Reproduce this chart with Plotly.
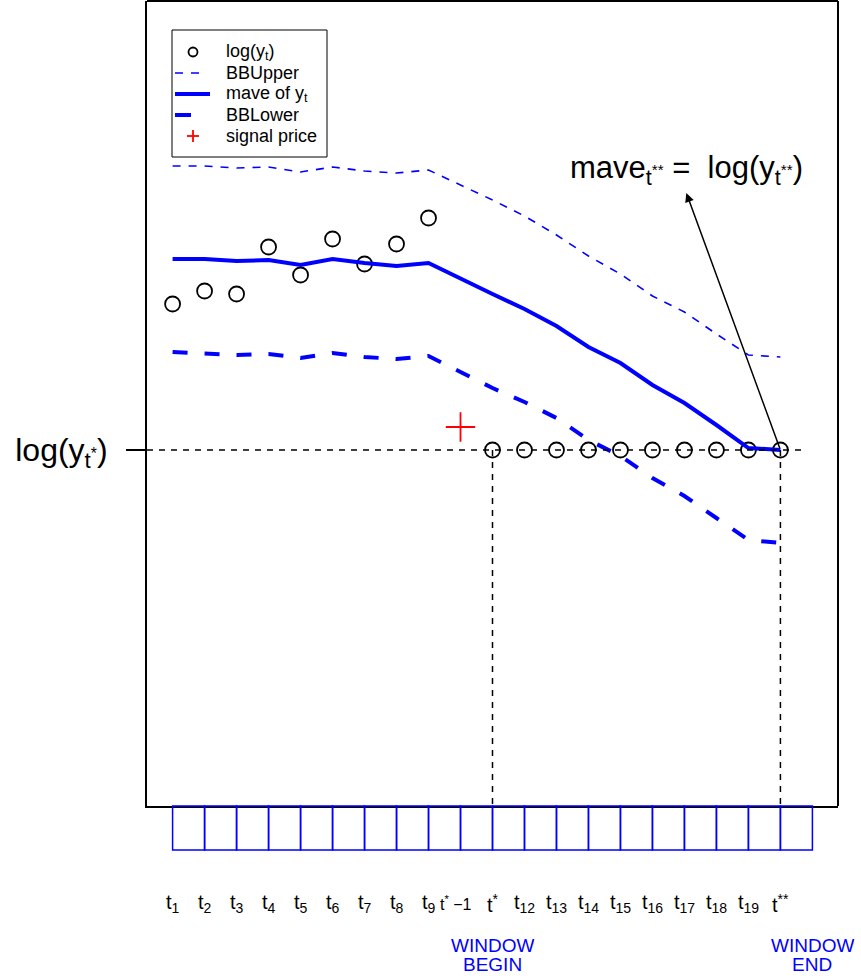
import plotly.graph_objects as go

# ---- data ----
x_idx = list(range(1, 21))
log_y = [5.02, 5.15, 5.12, 5.59, 5.31, 5.67, 5.42, 5.62, 5.88, None,
         3.56, 3.56, 3.56, 3.56, 3.56, 3.56, 3.56, 3.56, 3.56, 3.56]
mave = [5.47, 5.47, 5.45, 5.46, 5.41, 5.47, 5.43, 5.40, 5.43, 5.27,
        5.12, 4.97, 4.80, 4.59, 4.43, 4.21, 4.03, 3.81, 3.58, 3.56]
bb_upper = [6.40, 6.40, 6.38, 6.39, 6.34, 6.39, 6.35, 6.33, 6.36, 6.21,
            6.06, 5.90, 5.71, 5.50, 5.32, 5.10, 4.94, 4.72, 4.51, 4.49]
bb_lower = [4.54, 4.53, 4.51, 4.52, 4.48, 4.53, 4.49, 4.47, 4.50, 4.34,
            4.18, 4.04, 3.88, 3.66, 3.50, 3.28, 3.10, 2.88, 2.66, 2.63]
signal_x = [10]
signal_y = [3.79]
log_y_star = 3.56
t_star = 11
t_star2 = 20
arrow_head = (17.06, 6.13)
tick_labels = ["t<sub>1</sub>", "t<sub>2</sub>", "t<sub>3</sub>", "t<sub>4</sub>",
               "t<sub>5</sub>", "t<sub>6</sub>", "t<sub>7</sub>", "t<sub>8</sub>",
               "t<sub>9</sub>", "<span style='font-size:16px'>t<sup>*</sup> −1</span>",
               "t<sup>*</sup>", "t<sub>12</sub>", "t<sub>13</sub>", "t<sub>14</sub>",
               "t<sub>15</sub>", "t<sub>16</sub>", "t<sub>17</sub>", "t<sub>18</sub>",
               "t<sub>19</sub>", "t<sup>**</sup>"]
window_cells = list(range(1, 21))
window_labels = [(11, "WINDOW", "BEGIN"), (21, "WINDOW", "END")]
legend_labels = ["log(y<sub>t</sub>)", "BBUpper", "mave of y<sub>t</sub>", "BBLower", "signal price"]

BLUE = "#0000FF"
FONT = "Liberation Sans, Arial, Helvetica, sans-serif"

W, H = 861, 978
L, R, T, B = 147, 23, 1, 172
plot_w = W - L - R
plot_h = H - T - B

def px(xp):
    return (xp - L) / plot_w

def py(yp):
    return (H - B - yp) / plot_h

fig = go.Figure()

fig.add_trace(go.Scatter(x=x_idx, y=log_y, mode="markers", showlegend=False,
                         marker=dict(symbol="circle-open", size=15, color="black",
                                     line=dict(width=1.8, color="black"))))
fig.add_trace(go.Scatter(x=x_idx, y=bb_upper, mode="lines", showlegend=False,
                         line=dict(color=BLUE, width=1.6, dash="8px,8px")))
fig.add_trace(go.Scatter(x=x_idx, y=mave, mode="lines", showlegend=False,
                         line=dict(color=BLUE, width=4)))
fig.add_trace(go.Scatter(x=x_idx, y=bb_lower, mode="lines", showlegend=False,
                         line=dict(color=BLUE, width=4, dash="15px,17px")))
fig.add_trace(go.Scatter(x=signal_x, y=signal_y, mode="markers", showlegend=False,
                         marker=dict(symbol="cross-thin", size=21, color="red",
                                     line=dict(width=1.8, color="red"))))

shapes = []
# right and top border
shapes.append(dict(type="line", xref="paper", yref="paper", x0=1, x1=1, y0=0, y1=1,
                   line=dict(color="black", width=2)))
shapes.append(dict(type="line", xref="paper", yref="paper", x0=0, x1=1, y0=1, y1=1,
                   line=dict(color="black", width=2)))
# horizontal dashed line at log(y_t*)
shapes.append(dict(type="line", xref="x", yref="y", x0=0.2, x1=20.72,
                   y0=log_y_star, y1=log_y_star,
                   line=dict(color="black", width=1.5, dash="6px,6px")))
# vertical dashed lines
for xv in (t_star, t_star2):
    shapes.append(dict(type="line", xref="x", yref="y", x0=xv, x1=xv,
                       y0=log_y_star, y1=0,
                       line=dict(color="black", width=1.5, dash="6px,6px")))
# window cells below the plot
for c in window_cells:
    shapes.append(dict(type="rect", xref="x", yref="paper", x0=c, x1=c + 1,
                       y0=py(850), y1=py(806), line=dict(color=BLUE, width=1.5),
                       fillcolor="rgba(0,0,0,0)"))

# ---- legend (drawn manually to match R's compact legend) ----
shapes.append(dict(type="rect", xref="paper", yref="paper", x0=px(172), x1=px(327),
                   y0=py(157), y1=py(30), line=dict(color="black", width=1),
                   fillcolor="white"))
rows = [52, 73, 94, 115, 136]
shapes.append(dict(type="circle", xref="paper", yref="paper", x0=px(188.5), x1=px(197.5),
                   y0=py(rows[0] + 4.5), y1=py(rows[0] - 4.5), line=dict(color="black", width=1.8)))
shapes.append(dict(type="line", xref="paper", yref="paper", x0=px(175), x1=px(203),
                   y0=py(rows[1]), y1=py(rows[1]), line=dict(color=BLUE, width=1.6, dash="8px,8px")))
shapes.append(dict(type="line", xref="paper", yref="paper", x0=px(175), x1=px(210),
                   y0=py(rows[2]), y1=py(rows[2]), line=dict(color=BLUE, width=4)))
shapes.append(dict(type="line", xref="paper", yref="paper", x0=px(175), x1=px(191),
                   y0=py(rows[3]), y1=py(rows[3]), line=dict(color=BLUE, width=4)))
shapes.append(dict(type="line", xref="paper", yref="paper", x0=px(187), x1=px(199),
                   y0=py(rows[4]), y1=py(rows[4]), line=dict(color="red", width=1.8)))
shapes.append(dict(type="line", xref="paper", yref="paper", x0=px(193), x1=px(193),
                   y0=py(rows[4] + 6), y1=py(rows[4] - 6), line=dict(color="red", width=1.8)))

annotations = []
for ry, lab in zip(rows, legend_labels):
    annotations.append(dict(x=px(224), y=py(ry), xref="paper", yref="paper", text=lab,
                            showarrow=False, xanchor="left", yanchor="middle",
                            height=20, valign="middle",
                            font=dict(family=FONT, size=18, color="black")))

for xv, lab in zip(x_idx, tick_labels):
    annotations.append(dict(x=xv, y=py(903), xref="x", yref="paper",
                            text=lab, showarrow=False, xanchor="center", yanchor="middle",
                            xshift=(-5 if xv == 10 else 0),
                            font=dict(family=FONT, size=20, color="black")))
for xv, l1, l2 in window_labels:
    annotations.append(dict(x=xv, y=py(945), xref="x", yref="paper",
                            text=l1, showarrow=False, xanchor="center", yanchor="middle",
                            height=18, font=dict(family=FONT, size=19, color=BLUE)))
    annotations.append(dict(x=xv, y=py(964), xref="x", yref="paper",
                            text=l2, showarrow=False, xanchor="center", yanchor="middle",
                            height=18, font=dict(family=FONT, size=19, color=BLUE)))
# arrow
annotations.append(dict(x=arrow_head[0], y=arrow_head[1], xref="x", yref="y",
                        ax=t_star2, ay=log_y_star, axref="x", ayref="y",
                        text="", showarrow=True, arrowhead=2, arrowsize=1.2,
                        arrowwidth=1.5, arrowcolor="black"))
annotations.append(dict(x=17.05, y=py(170), xref="x", yref="paper",
                        text="mave<sub>t<sup>**</sup></sub> =  log(y<sub>t<sup>**</sup></sub>)",
                        showarrow=False, xanchor="center", yanchor="middle",
                        font=dict(family=FONT, size=31, color="black")))

fig.update_layout(
    width=W, height=H,
    margin=dict(l=L, r=R, t=T, b=B, pad=0, autoexpand=False),
    paper_bgcolor="white", plot_bgcolor="white",
    font=dict(family=FONT, color="black"),
    showlegend=False,
    xaxis=dict(range=[0.2, 21.8], showgrid=False, zeroline=False, showticklabels=False,
               ticks="", showline=True, linecolor="black", linewidth=2, automargin=False),
    yaxis=dict(range=[0, 8.05], showgrid=False, zeroline=False,
               tickvals=[log_y_star], ticktext=["log(y<sub>t<sup>*</sup></sub>)"],
               ticks="outside", ticklen=19, tickwidth=2, tickcolor="black",
               tickfont=dict(family=FONT, size=32, color="black"),
               ticklabelstandoff=12, automargin=False,
               showline=True, linecolor="black", linewidth=2),
    shapes=shapes,
    annotations=annotations,
)

fig.write_html("out.html", config={"displayModeBar": False},
               post_script="document.body.style.margin='0';document.body.style.overflow='hidden';")
